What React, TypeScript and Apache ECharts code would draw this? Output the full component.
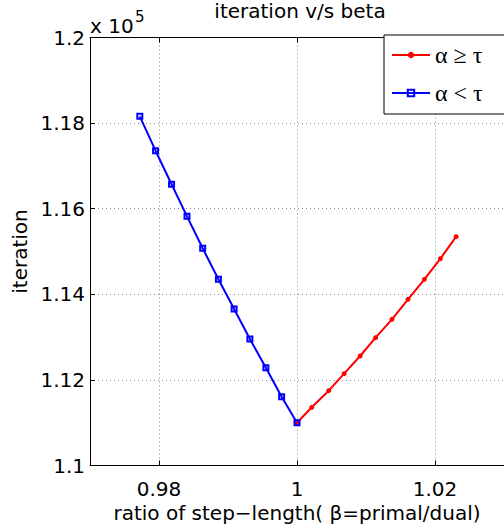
import React, { useEffect, useRef } from "react";
import * as echarts from "echarts";

const betaLow = [0.97722, 0.9795, 0.98182, 0.98406, 0.98633, 0.98861, 0.99089, 0.99317, 0.99549, 0.99777, 1.0];
const iterLow = [118159, 117355, 116570, 115822, 115075, 114350, 113657, 112956, 112285, 111608, 111000];
const betaHigh = [1.0, 1.00214, 1.0046, 1.00683, 1.00915, 1.01139, 1.01376, 1.01609, 1.01846, 1.02078, 1.02306];
const iterHigh = [111000, 111360, 111748, 112145, 112558, 112986, 113416, 113883, 114350, 114832, 115346];

const seriesNames = ["α ≥ τ", "α < τ"];
const titleText = "iteration v/s beta";
const xName = "ratio of step\u2212length( β=primal/dual)";
const yName = "iteration";

const FONT = "DejaVu Sans";

export default function App() {
  const ref = useRef<HTMLDivElement>(null);
  useEffect(() => {
    if (!ref.current) return;
    const chart = echarts.init(ref.current, undefined, { renderer: "svg" });
    const axisLine = { onZero: false, lineStyle: { color: "#000", width: 1 } };
    const axisTick = { inside: true, length: 5, lineStyle: { color: "#000", width: 1 } };
    chart.setOption({
      animation: false,
      backgroundColor: "#fff",
      textStyle: { fontFamily: FONT },
      grid: { left: 90, top: 37.5, right: -7, bottom: 65.5 },
      xAxis: [
        {
          type: "value",
          min: 0.97,
          max: 1.03,
          splitNumber: 3,
          position: "bottom",
          name: xName,
          nameLocation: "middle",
          nameGap: 29,
          nameTextStyle: { fontSize: 20, color: "#000", fontFamily: FONT },
          axisLine,
          axisTick,
          axisLabel: {
            showMinLabel: false,
            showMaxLabel: false,
            fontSize: 20,
            color: "#000",
            fontFamily: FONT,
            margin: 13,
          },
          splitLine: { show: true, lineStyle: { color: "#888", width: 1, type: [1, 3] } },
        },
        {
          type: "value",
          min: 0.97,
          max: 1.03,
          splitNumber: 3,
          position: "top",
          axisLine,
          axisTick,
          axisLabel: { show: false },
          splitLine: { show: false },
        },
      ],
      yAxis: {
        type: "value",
        min: 110000,
        max: 120000,
        interval: 2000,
        name: yName,
        nameLocation: "middle",
        nameGap: 58,
        nameRotate: 90,
        nameTextStyle: { fontSize: 20, color: "#000", fontFamily: FONT },
        axisLine,
        axisTick,
        axisLabel: {
          fontSize: 20,
          color: "#000",
          fontFamily: FONT,
          margin: 5,
          formatter: (v: number) => String(+(v / 1e5).toFixed(2)),
        },
        splitLine: { show: true, lineStyle: { color: "#888", width: 1, type: [1, 3] } },
      },
      legend: {
        orient: "vertical",
        left: 384,
        top: 35,
        padding: [7, 30, 8, 7],
        itemGap: 12,
        itemWidth: 38,
        itemHeight: 8,
        backgroundColor: "#fff",
        borderColor: "#000",
        borderWidth: 1,
        borderRadius: 0,
        data: seriesNames,
        textStyle: { fontFamily: "Liberation Serif", fontSize: 24, lineHeight: 26, color: "#000" },
      },
      series: [
        {
          name: seriesNames[0],
          type: "line",
          data: betaHigh.map((b, i) => [b, iterHigh[i]]),
          symbol: "circle",
          symbolSize: 5,
          lineStyle: { color: "#ff0000", width: 2 },
          itemStyle: { color: "#ff0000" },
        },
        {
          name: seriesNames[1],
          type: "line",
          data: betaLow.map((b, i) => [b, iterLow[i]]),
          symbol: "rect",
          symbolSize: 5,
          lineStyle: { color: "#0000ff", width: 2 },
          itemStyle: { color: "rgba(255,255,255,0)", borderColor: "#0000ff", borderWidth: 2 },
        },
      ],
      graphic: [
        {
          type: "text",
          x: 300,
          y: 11,
          style: {
            text: titleText,
            fontFamily: FONT,
            fontSize: 20,
            fill: "#000",
            align: "center",
            verticalAlign: "middle",
          },
        },
        {
          type: "text",
          x: 90,
          y: 26,
          style: {
            text: "x 10",
            fontFamily: FONT,
            fontSize: 20,
            fill: "#000",
            align: "left",
            verticalAlign: "middle",
          },
        },
        {
          type: "text",
          x: 135,
          y: 17,
          style: {
            text: "5",
            fontFamily: FONT,
            fontSize: 15,
            fill: "#000",
            align: "left",
            verticalAlign: "middle",
          },
        },
      ],
    });
    return () => chart.dispose();
  }, []);
  return (
    <div
      ref={ref}
      style={{ position: "fixed", left: 0, top: 0, width: 504, height: 531 }}
    />
  );
}
